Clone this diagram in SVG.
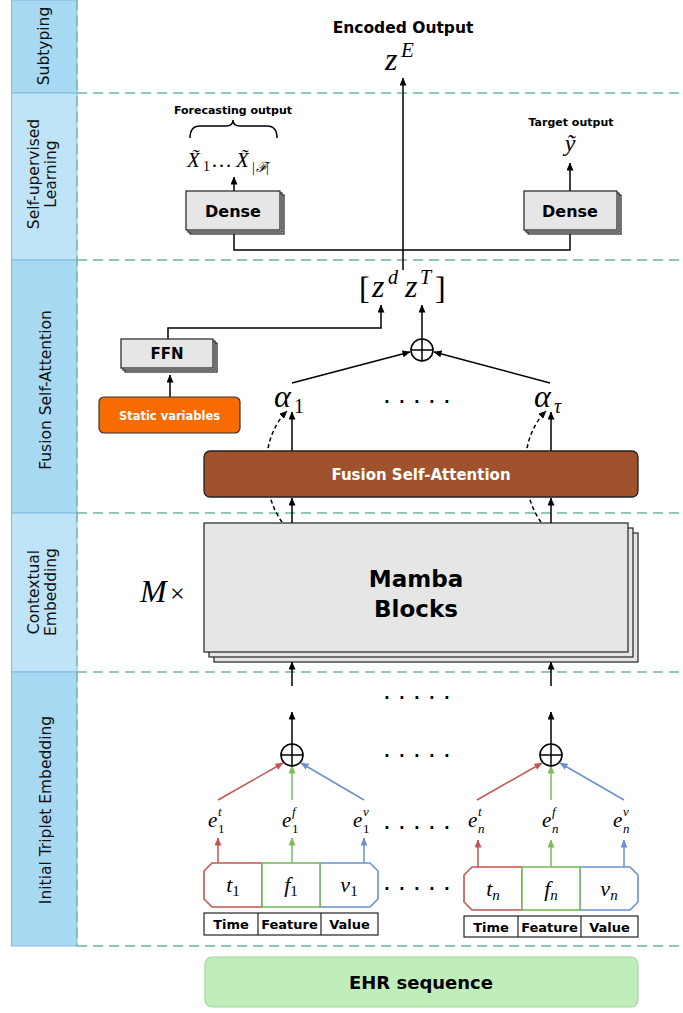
<svg xmlns="http://www.w3.org/2000/svg" width="683" height="1013" viewBox="0 0 683 1013">
<defs>
<style>
.sep{stroke:#6db5a7;stroke-width:1.3;stroke-dasharray:10 6;fill:none}
.bandD{fill:#a7d9f2;stroke:#80bcdc;stroke-width:1}
.bandL{fill:#bfe4f7;stroke:#80bcdc;stroke-width:1}
.side{font-family:"DejaVu Sans",sans-serif;font-size:15.5px;fill:#111;text-anchor:middle}
.b{font-family:"DejaVu Sans",sans-serif;font-weight:bold;fill:#000;text-anchor:middle}
.m{font-family:"Liberation Serif","DejaVu Serif",serif;font-style:italic;fill:#000}
.up{font-style:normal}
.box{fill:#e6e6e6;stroke:#222;stroke-width:1.2}
.ln{stroke:#000;stroke-width:1.5;fill:none}
.arr{stroke:#000;stroke-width:1.5;fill:none;marker-end:url(#ah)}
.darr{stroke:#000;stroke-width:1.5;fill:none;stroke-dasharray:4 3;marker-end:url(#ah)}
.ar{stroke:#c55353;stroke-width:1.5;fill:none;marker-end:url(#ahr)}
.ag{stroke:#7cbb5a;stroke-width:1.5;fill:none;marker-end:url(#ahg)}
.ab{stroke:#6b8fd3;stroke-width:1.5;fill:none;marker-end:url(#ahb)}
.cr{fill:#fff;stroke:#c55353;stroke-width:1.6}
.cg{fill:#fff;stroke:#7cbb5a;stroke-width:1.6}
.cb{fill:#fff;stroke:#6b8fd3;stroke-width:1.6}
.tbl{fill:#fff;stroke:#222;stroke-width:1.2}
.dots{font-family:"DejaVu Sans",sans-serif;font-weight:bold;font-size:15px;fill:#000}
.plus{fill:#fff;stroke:#000;stroke-width:1.6}
</style>
<marker id="ah" markerUnits="userSpaceOnUse" markerWidth="8" markerHeight="7" viewBox="0 0 8 7" refX="7.5" refY="3.5" orient="auto"><path d="M0,0 L8,3.5 L0,7 Z" fill="#000"/></marker>
<marker id="ahr" markerUnits="userSpaceOnUse" markerWidth="8" markerHeight="7" viewBox="0 0 8 7" refX="7.5" refY="3.5" orient="auto"><path d="M0,0 L8,3.5 L0,7 Z" fill="#c55353"/></marker>
<marker id="ahg" markerUnits="userSpaceOnUse" markerWidth="8" markerHeight="7" viewBox="0 0 8 7" refX="7.5" refY="3.5" orient="auto"><path d="M0,0 L8,3.5 L0,7 Z" fill="#7cbb5a"/></marker>
<marker id="ahb" markerUnits="userSpaceOnUse" markerWidth="8" markerHeight="7" viewBox="0 0 8 7" refX="7.5" refY="3.5" orient="auto"><path d="M0,0 L8,3.5 L0,7 Z" fill="#6b8fd3"/></marker>
</defs>
<rect x="0" y="0" width="683" height="1013" fill="#fff"/>

<g id="sidebar">
<rect class="bandD" x="11.5" y="0" width="65.5" height="93"/>
<rect class="bandL" x="11.5" y="93" width="65.5" height="167"/>
<rect class="bandD" x="11.5" y="260" width="65.5" height="253"/>
<rect class="bandL" x="11.5" y="513" width="65.5" height="159"/>
<rect class="bandD" x="11.5" y="672" width="65.5" height="274"/>
<text class="side" transform="translate(49,46) rotate(-90)">Subtyping</text>
<text class="side" transform="translate(39,174) rotate(-90)">Self-upervised</text>
<text class="side" transform="translate(56,174) rotate(-90)">Learning</text>
<text class="side" transform="translate(51,390) rotate(-90)">Fusion Self-Attention</text>
<text class="side" transform="translate(39,592) rotate(-90)">Contextual</text>
<text class="side" transform="translate(56,592) rotate(-90)">Embedding</text>
<text class="side" transform="translate(51,810) rotate(-90)">Initial Triplet Embedding</text>
</g>

<g id="separators">
<line class="sep" x1="77" y1="0" x2="77" y2="946"/>
<line class="sep" x1="77" y1="93" x2="683" y2="93"/>
<line class="sep" x1="77" y1="260" x2="683" y2="260"/>
<line class="sep" x1="77" y1="513" x2="683" y2="513"/>
<line class="sep" x1="77" y1="672" x2="683" y2="672"/>
<line class="sep" x1="77" y1="946" x2="683" y2="946"/>
</g>

<g id="connectors">
<line class="arr" x1="403" y1="270" x2="403" y2="78"/>
<polyline class="ln" points="234,234 234,250 570,250 570,234"/>
<line class="arr" x1="234" y1="191" x2="234" y2="177"/>
<line class="arr" x1="570" y1="191" x2="570" y2="163"/>
<polyline class="arr" points="168,339 168,328 381,328 381,305"/>
<line class="arr" x1="422" y1="339" x2="422" y2="305"/>
<line class="arr" x1="292" y1="383" x2="410" y2="352"/>
<line class="arr" x1="550" y1="383" x2="434" y2="352"/>
<line class="arr" x1="170" y1="397" x2="170" y2="375"/>
<line class="arr" x1="292" y1="451" x2="292" y2="412"/>
<line class="arr" x1="551" y1="451" x2="551" y2="412"/>
<line class="arr" x1="292" y1="523" x2="292" y2="498"/>
<line class="arr" x1="551" y1="523" x2="551" y2="498"/>
<path class="darr" d="M282,522 C262,495 258,440 287,411"/>
<path class="darr" d="M541,522 C521,495 517,440 546,411"/>
<line class="arr" x1="292" y1="686" x2="292" y2="662"/>
<line class="arr" x1="551" y1="686" x2="551" y2="662"/>
<line class="arr" x1="292" y1="744" x2="292" y2="712"/>
<line class="arr" x1="551" y1="744" x2="551" y2="712"/>
<line class="ar" x1="218" y1="800" x2="283" y2="763"/>
<line class="ag" x1="292" y1="800" x2="292" y2="766"/>
<line class="ab" x1="364" y1="800" x2="301" y2="763"/>
<line class="ar" x1="477" y1="800" x2="542" y2="763"/>
<line class="ag" x1="551" y1="800" x2="551" y2="766"/>
<line class="ab" x1="624" y1="800" x2="560" y2="763"/>
<line class="ar" x1="218" y1="863" x2="218" y2="838"/>
<line class="ag" x1="292" y1="863" x2="292" y2="838"/>
<line class="ab" x1="364" y1="863" x2="364" y2="838"/>
<line class="ar" x1="478" y1="867" x2="478" y2="840"/>
<line class="ag" x1="551" y1="867" x2="551" y2="840"/>
<line class="ab" x1="624" y1="867" x2="624" y2="840"/>
</g>

<g id="encoded-output">
<text class="b" x="403" y="33" font-size="15.5">Encoded Output</text>
<text class="m" font-size="32"><tspan x="385" y="70">z</tspan><tspan x="401" y="57" font-size="21">E</tspan></text>
</g>

<g id="forecasting-output">
<text class="b" x="233" y="114" font-size="11">Forecasting output</text>
<path class="ln" d="M190,138 Q190,126 200,126 L226,126 Q233,126 233,120 Q233,126 240,126 L267,126 Q277,126 277,138"/>
<text class="m" font-size="21"><tspan x="187" y="167">X̃</tspan><tspan class="up" x="203" y="171" font-size="14">1</tspan><tspan class="up" x="211" y="167">…</tspan><tspan x="236" y="167">X̃</tspan><tspan class="up" x="252" y="172" font-size="14">|</tspan><tspan x="256" y="172" font-size="14">ℱ</tspan><tspan class="up" x="266" y="172" font-size="14">|</tspan></text>
</g>

<g id="dense-forecast">
<rect class="box" x="190" y="195" width="94" height="39"/>
<rect class="box" x="188" y="193" width="94" height="39"/>
<rect class="box" x="186" y="191" width="94" height="39"/>
<text class="b" x="233" y="217" font-size="16">Dense</text>
</g>

<g id="target-output">
<text class="b" x="571" y="126" font-size="11">Target output</text>
<text class="m" x="570" y="151" font-size="24" text-anchor="middle">ỹ</text>
</g>

<g id="dense-target">
<rect class="box" x="528" y="195" width="93" height="39"/>
<rect class="box" x="526" y="193" width="93" height="39"/>
<rect class="box" x="524" y="191" width="93" height="39"/>
<text class="b" x="570" y="217" font-size="16">Dense</text>
</g>

<g id="concat">
<text class="m" font-size="32"><tspan class="up" x="359" y="299">[</tspan><tspan x="372" y="297">z</tspan><tspan x="388" y="284" font-size="20">d</tspan><tspan x="405" y="297">z</tspan><tspan x="420" y="284" font-size="20">T</tspan><tspan class="up" x="435" y="299">]</tspan></text>
</g>

<g id="plus-top">
<circle class="plus" cx="422" cy="350" r="11"/>
<line class="ln" x1="411" y1="350" x2="433" y2="350"/>
<line class="ln" x1="422" y1="339" x2="422" y2="361"/>
</g>

<g id="ffn">
<rect class="box" x="125" y="343" width="92" height="29"/>
<rect class="box" x="123" y="341" width="92" height="29"/>
<rect class="box" x="121" y="339" width="92" height="29"/>
<text class="b" x="167" y="359" font-size="15">FFN</text>
</g>

<g id="static-variables">
<rect x="99" y="397" width="141" height="36" rx="5" fill="#f76b00" stroke="#333" stroke-width="1.2"/>
<text class="b" x="169.5" y="419.5" font-size="11.5" style="fill:#fff">Static variables</text>
</g>

<g id="alphas">
<text class="m" font-size="32"><tspan x="274" y="407">α</tspan><tspan class="up" x="294" y="413" font-size="20">1</tspan></text>
<text class="dots" x="384 399 414 429 444" y="403">.....</text>
<text class="m" font-size="32"><tspan x="534" y="407">α</tspan><tspan x="554" y="413" font-size="20">τ</tspan></text>
</g>

<g id="fusion-self-attention">
<rect x="204" y="451" width="434" height="46" rx="6" fill="#a0522d" stroke="#222" stroke-width="1.3"/>
<text class="b" x="421" y="480" font-size="15" style="fill:#fff">Fusion Self-Attention</text>
</g>

<g id="mamba-blocks">
<rect class="box" x="214" y="533" width="424" height="129"/>
<rect class="box" x="209" y="528" width="424" height="129"/>
<rect class="box" x="204" y="523" width="424" height="129"/>
<text class="b" x="416" y="587" font-size="23">Mamba</text>
<text class="b" x="416" y="617" font-size="23">Blocks</text>
<text class="m" font-size="32"><tspan x="140" y="602">M</tspan><tspan class="up" x="170" y="602" font-size="26">×</tspan></text>
</g>

<g id="dots-mid">
<text class="dots" x="384 399 414 429 444" y="699">.....</text>
<text class="dots" x="384 399 414 429 444" y="757">.....</text>
<text class="dots" x="384 399 414 429 444" y="829">.....</text>
<text class="dots" x="384 399 414 429 444" y="890">.....</text>
</g>

<g id="plus-1">
<circle class="plus" cx="292" cy="755" r="11"/>
<line class="ln" x1="281" y1="755" x2="303" y2="755"/>
<line class="ln" x1="292" y1="744" x2="292" y2="766"/>
</g>
<g id="plus-n">
<circle class="plus" cx="551" cy="755" r="11"/>
<line class="ln" x1="540" y1="755" x2="562" y2="755"/>
<line class="ln" x1="551" y1="744" x2="551" y2="766"/>
</g>

<g id="embeddings-1">
<text class="m" font-size="21"><tspan x="208" y="827">e</tspan><tspan x="218" y="816" font-size="13">t</tspan><tspan class="up" x="218" y="833" font-size="13">1</tspan></text>
<text class="m" font-size="21"><tspan x="282" y="827">e</tspan><tspan x="292" y="816" font-size="13">f</tspan><tspan class="up" x="292" y="833" font-size="13">1</tspan></text>
<text class="m" font-size="21"><tspan x="353" y="827">e</tspan><tspan x="363" y="816" font-size="13">v</tspan><tspan class="up" x="363" y="833" font-size="13">1</tspan></text>
</g>
<g id="embeddings-n">
<text class="m" font-size="21"><tspan x="468" y="827">e</tspan><tspan x="478" y="816" font-size="13">t</tspan><tspan x="478" y="833" font-size="13">n</tspan></text>
<text class="m" font-size="21"><tspan x="542" y="827">e</tspan><tspan x="552" y="816" font-size="13">f</tspan><tspan x="552" y="833" font-size="13">n</tspan></text>
<text class="m" font-size="21"><tspan x="613" y="827">e</tspan><tspan x="623" y="816" font-size="13">v</tspan><tspan x="623" y="833" font-size="13">n</tspan></text>
</g>

<g id="triplet-1">
<path class="cr" d="M212,863 L262,863 L262,907 L212,907 L204,899 L204,871 Z"/>
<path class="cb" d="M320,863 L370,863 L378,871 L378,899 L370,907 L320,907 Z"/>
<rect class="cg" x="262" y="863" width="58" height="44"/>
<text class="m" x="233" y="892" font-size="22" text-anchor="middle">t<tspan class="up" font-size="15" dy="4">1</tspan></text>
<text class="m" x="291" y="892" font-size="22" text-anchor="middle">f<tspan class="up" font-size="15" dy="4">1</tspan></text>
<text class="m" x="349" y="892" font-size="22" text-anchor="middle">v<tspan class="up" font-size="15" dy="4">1</tspan></text>
<rect class="tbl" x="204" y="913" width="174" height="22"/>
<line class="tbl" x1="258" y1="913" x2="258" y2="935"/>
<line class="tbl" x1="321" y1="913" x2="321" y2="935"/>
<text class="b" x="231" y="929" font-size="13">Time</text>
<text class="b" x="289.5" y="929" font-size="13">Feature</text>
<text class="b" x="349.5" y="929" font-size="13">Value</text>
</g>

<g id="triplet-n">
<path class="cr" d="M472,867 L522,867 L522,910 L472,910 L464,902 L464,875 Z"/>
<path class="cb" d="M580,867 L630,867 L638,875 L638,902 L630,910 L580,910 Z"/>
<rect class="cg" x="522" y="867" width="58" height="43"/>
<text class="m" x="493" y="896" font-size="22" text-anchor="middle">t<tspan font-size="15" dy="4">n</tspan></text>
<text class="m" x="551" y="896" font-size="22" text-anchor="middle">f<tspan font-size="15" dy="4">n</tspan></text>
<text class="m" x="609" y="896" font-size="22" text-anchor="middle">v<tspan font-size="15" dy="4">n</tspan></text>
<rect class="tbl" x="464" y="916" width="174" height="21"/>
<line class="tbl" x1="518" y1="916" x2="518" y2="937"/>
<line class="tbl" x1="581" y1="916" x2="581" y2="937"/>
<text class="b" x="491" y="932" font-size="13">Time</text>
<text class="b" x="549.5" y="932" font-size="13">Feature</text>
<text class="b" x="609.5" y="932" font-size="13">Value</text>
</g>

<g id="ehr-sequence">
<rect x="205" y="957" width="433" height="50" rx="7" fill="#c0eeba" stroke="#a3d69c" stroke-width="1.2"/>
<text class="b" x="421" y="989" font-size="18">EHR sequence</text>
</g>
</svg>
